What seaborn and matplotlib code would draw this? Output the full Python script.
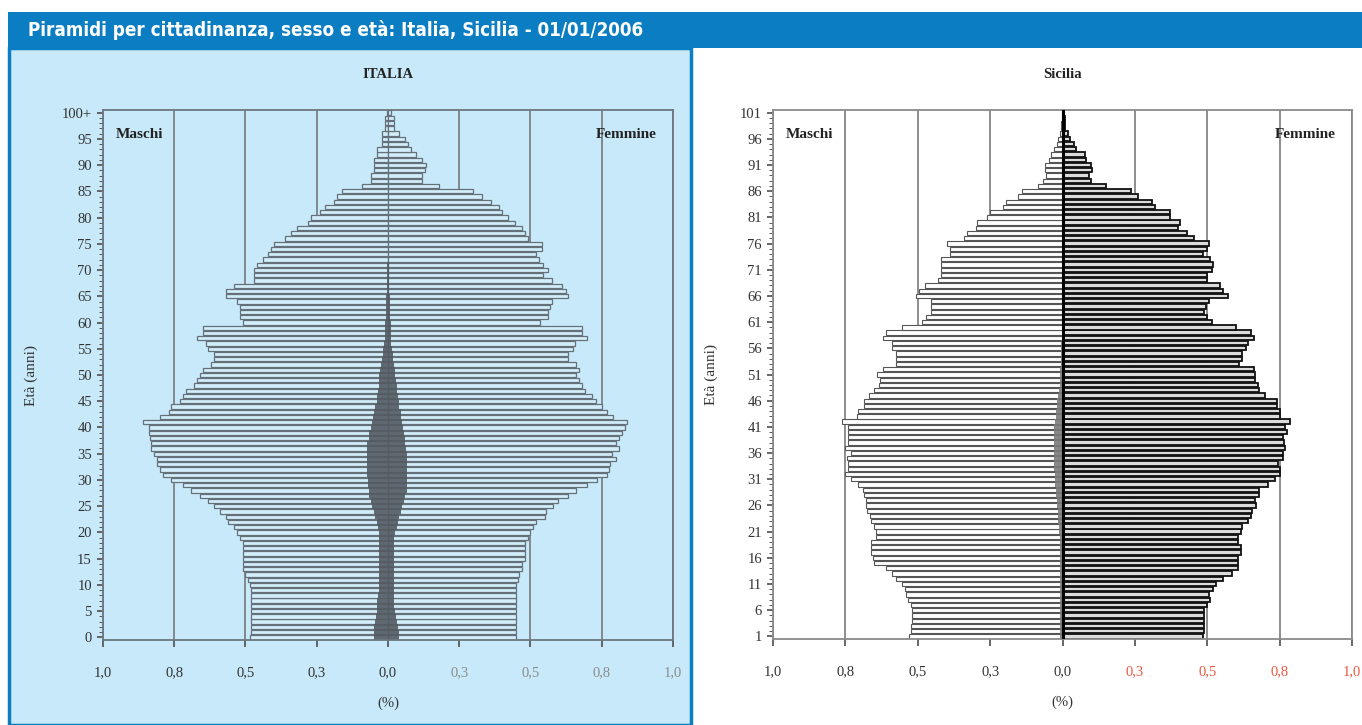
import matplotlib
matplotlib.use('Agg')
import matplotlib.pyplot as plt
from matplotlib.patches import Rectangle
import pandas as pd
import seaborn as sns

# --- dati (% sul totale della popolazione, per singolo anno di eta') ---
eta_italia = list(range(0, 101))
italia_maschi = [
    0.485, 0.48, 0.48, 0.48, 0.48, 0.48, 0.48, 0.48, 0.48, 0.48,
    0.485, 0.49, 0.50, 0.51, 0.51, 0.51, 0.51, 0.51, 0.51, 0.52,
    0.53, 0.54, 0.56, 0.57, 0.59, 0.61, 0.63, 0.66, 0.69, 0.72,
    0.76, 0.79, 0.80, 0.81, 0.81, 0.82, 0.83, 0.83, 0.835, 0.84,
    0.84, 0.86, 0.80, 0.77, 0.76, 0.73, 0.72, 0.71, 0.68, 0.67,
    0.66, 0.65, 0.62, 0.61, 0.61, 0.63, 0.64, 0.67, 0.65, 0.65,
    0.51, 0.52, 0.52, 0.52, 0.53, 0.57, 0.57, 0.54, 0.47, 0.47,
    0.47, 0.46, 0.44, 0.42, 0.41, 0.40, 0.36, 0.34, 0.32, 0.28,
    0.27, 0.24, 0.22, 0.19, 0.18, 0.16, 0.09, 0.06, 0.06, 0.05,
    0.05, 0.05, 0.04, 0.04, 0.02, 0.02, 0.02, 0.01, 0.01, 0.01,
    0.005]
italia_femmine = [
    0.45, 0.45, 0.45, 0.45, 0.45, 0.45, 0.45, 0.45, 0.45, 0.45,
    0.45, 0.455, 0.46, 0.47, 0.47, 0.48, 0.48, 0.48, 0.48, 0.49,
    0.50, 0.51, 0.52, 0.55, 0.555, 0.58, 0.595, 0.63, 0.66, 0.70,
    0.735, 0.77, 0.775, 0.78, 0.80, 0.785, 0.81, 0.80, 0.81, 0.82,
    0.83, 0.84, 0.79, 0.77, 0.75, 0.73, 0.715, 0.69, 0.68, 0.67,
    0.66, 0.67, 0.66, 0.63, 0.63, 0.65, 0.655, 0.70, 0.68, 0.68,
    0.535, 0.56, 0.56, 0.57, 0.575, 0.63, 0.625, 0.61, 0.575, 0.545,
    0.56, 0.545, 0.53, 0.52, 0.54, 0.54, 0.49, 0.48, 0.47, 0.445,
    0.42, 0.40, 0.39, 0.36, 0.33, 0.30, 0.18, 0.12, 0.12, 0.13,
    0.135, 0.12, 0.10, 0.08, 0.07, 0.06, 0.04, 0.02, 0.02, 0.02,
    0.01]
italia_stranieri_m = [
    0.05, 0.05, 0.048, 0.045, 0.043, 0.04, 0.04, 0.037, 0.035, 0.033,
    0.032, 0.03, 0.03, 0.03, 0.03, 0.03, 0.03, 0.03, 0.03, 0.03,
    0.032, 0.035, 0.04, 0.045, 0.05, 0.055, 0.06, 0.065, 0.068, 0.07,
    0.07, 0.072, 0.072, 0.072, 0.072, 0.072, 0.072, 0.072, 0.068, 0.065,
    0.06, 0.057, 0.052, 0.048, 0.045, 0.04, 0.037, 0.035, 0.032, 0.03,
    0.03, 0.028, 0.025, 0.02, 0.018, 0.016, 0.014, 0.012, 0.011, 0.01,
    0.009, 0.008, 0.008, 0.008, 0.008, 0.008, 0.005, 0.005, 0.005, 0.005,
    0.005, 0.005, 0, 0, 0, 0, 0, 0, 0, 0,
    0, 0, 0, 0, 0, 0, 0, 0, 0, 0,
    0, 0, 0, 0, 0, 0, 0, 0, 0, 0,
    0]
italia_stranieri_f = [
    0.04, 0.038, 0.035, 0.03, 0.027, 0.025, 0.02, 0.02, 0.02, 0.02,
    0.02, 0.02, 0.02, 0.02, 0.02, 0.02, 0.02, 0.02, 0.02, 0.022,
    0.025, 0.03, 0.035, 0.04, 0.045, 0.05, 0.055, 0.06, 0.065, 0.065,
    0.065, 0.065, 0.065, 0.065, 0.065, 0.065, 0.063, 0.06, 0.058, 0.055,
    0.052, 0.05, 0.047, 0.044, 0.04, 0.037, 0.035, 0.033, 0.03, 0.028,
    0.026, 0.025, 0.022, 0.018, 0.016, 0.015, 0.012, 0.012, 0.012, 0.012,
    0.012, 0.008, 0.008, 0.008, 0.008, 0.008, 0.005, 0.005, 0.005, 0.005,
    0.005, 0.005, 0, 0, 0, 0, 0, 0, 0, 0,
    0, 0, 0, 0, 0, 0, 0, 0, 0, 0,
    0, 0, 0, 0, 0, 0, 0, 0, 0, 0,
    0]

eta_sicilia = list(range(1, 102))
sicilia_maschi = [
    0.53, 0.525, 0.525, 0.52, 0.52, 0.52, 0.525, 0.535, 0.54, 0.545,
    0.555, 0.575, 0.59, 0.61, 0.65, 0.655, 0.66, 0.66, 0.66, 0.645,
    0.645, 0.65, 0.66, 0.665, 0.675, 0.68, 0.68, 0.685, 0.69, 0.705,
    0.73, 0.75, 0.74, 0.74, 0.745, 0.73, 0.75, 0.74, 0.74, 0.74,
    0.74, 0.76, 0.71, 0.705, 0.685, 0.685, 0.67, 0.65, 0.635, 0.63,
    0.64, 0.62, 0.575, 0.575, 0.575, 0.59, 0.59, 0.62, 0.61, 0.555,
    0.485, 0.47, 0.455, 0.455, 0.455, 0.505, 0.495, 0.475, 0.43, 0.42,
    0.42, 0.42, 0.42, 0.39, 0.39, 0.40, 0.34, 0.33, 0.30, 0.295,
    0.26, 0.25, 0.205, 0.195, 0.155, 0.14, 0.085, 0.068, 0.057, 0.062,
    0.062, 0.047, 0.038, 0.028, 0.02, 0.015, 0.01, 0.005, 0.004, 0.003,
    0.002]
sicilia_femmine = [
    0.485, 0.49, 0.49, 0.49, 0.49, 0.49, 0.50, 0.51, 0.505, 0.52,
    0.53, 0.555, 0.585, 0.605, 0.605, 0.605, 0.615, 0.615, 0.605, 0.605,
    0.615, 0.62, 0.64, 0.65, 0.655, 0.67, 0.665, 0.68, 0.68, 0.71,
    0.735, 0.75, 0.75, 0.745, 0.76, 0.76, 0.77, 0.765, 0.76, 0.775,
    0.77, 0.785, 0.75, 0.75, 0.74, 0.74, 0.70, 0.68, 0.675, 0.665,
    0.665, 0.66, 0.61, 0.62, 0.62, 0.635, 0.64, 0.66, 0.65, 0.60,
    0.515, 0.50, 0.49, 0.495, 0.505, 0.57, 0.555, 0.545, 0.50, 0.50,
    0.515, 0.52, 0.51, 0.485, 0.50, 0.505, 0.455, 0.43, 0.40, 0.405,
    0.37, 0.37, 0.32, 0.31, 0.26, 0.235, 0.15, 0.10, 0.093, 0.103,
    0.10, 0.082, 0.076, 0.048, 0.038, 0.026, 0.019, 0.01, 0.008, 0.007,
    0.005]
sicilia_stranieri_m = [
    0.01, 0.01, 0.01, 0.01, 0.01, 0.01, 0.01, 0.01, 0.01, 0.01,
    0.01, 0.01, 0.01, 0.01, 0.01, 0.01, 0.01, 0.01, 0.01, 0.01,
    0.012, 0.012, 0.014, 0.015, 0.017, 0.018, 0.02, 0.022, 0.024, 0.025,
    0.026, 0.027, 0.028, 0.028, 0.03, 0.03, 0.03, 0.03, 0.03, 0.03,
    0.028, 0.026, 0.024, 0.022, 0.02, 0.018, 0.015, 0.012, 0.01, 0.008,
    0.008, 0.007, 0.006, 0.005, 0.005, 0.004, 0.004, 0.003, 0.003, 0.003,
    0.002, 0.002, 0.002, 0.002, 0.002, 0, 0, 0, 0, 0,
    0, 0, 0, 0, 0, 0, 0, 0, 0, 0,
    0, 0, 0, 0, 0, 0, 0, 0, 0, 0,
    0, 0, 0, 0, 0, 0, 0, 0, 0, 0,
    0]

x_ticks = [-1.0, -0.75, -0.5, -0.25, 0.0, 0.25, 0.5, 0.75, 1.0]
x_labels = ['1,0', '0,8', '0,5', '0,3', '0,0', '0,3', '0,5', '0,8', '1,0']
y_ticks_italia = list(range(0, 101, 5))
y_labels_italia = [str(a) for a in range(0, 100, 5)] + ['100+']
y_ticks_sicilia = list(range(1, 102, 5))

BLU = '#0b7dc2'
AZZURRO = '#c7e9f9'
SERIF = ['Liberation Serif', 'DejaVu Serif']


def bars(ax, eta, valori, segno, **kw):
    df = pd.DataFrame({'eta': eta, 'valore': [segno * v for v in valori]})
    sns.barplot(data=df, x='valore', y='eta', orient='y', native_scale=True,
                saturation=1, errorbar=None, ax=ax, **kw)


def setup_axis(ax, ylim, yticks, ylabels, lato_dx_colore, spine_col, ylab_x):
    ax.set_xlim(-1.0, 1.0)
    ax.set_ylim(*ylim)
    ax.set_xticks(x_ticks)
    ax.set_xticklabels(x_labels, family=SERIF, fontsize=10.5)
    for lab in ax.get_xticklabels()[5:]:
        lab.set_color(lato_dx_colore)
    for lab in ax.get_xticklabels()[:5]:
        lab.set_color('#333333')
    ax.set_yticks(yticks)
    ax.set_yticklabels(ylabels, family=SERIF, fontsize=10.5, color='#333333')
    ax.set_yticks([y for y in range(int(ylim[0] + 0.5), int(ylim[1] + 0.5))], minor=True)
    ax.tick_params(axis='x', bottom=True, direction='out', length=5, pad=14, color='#555555')
    ax.tick_params(axis='y', which='major', left=True, direction='out', length=4, pad=4, color='#555555')
    ax.tick_params(axis='y', which='minor', left=True, direction='out', length=3, color='#555555', width=0.7)
    ax.grid(axis='x', color='#6f6f6f', linewidth=1.1, zorder=0)
    ax.grid(axis='y', visible=False)
    ax.set_axisbelow(True)
    for s in ax.spines.values():
        s.set_visible(True)
        s.set_color(spine_col)
        s.set_linewidth(1.3)
    ax.set_xlabel('(%)', family=SERIF, fontsize=10.5, color='#333333', labelpad=12)
    ax.set_ylabel('Età (anni)', family=SERIF, fontsize=11, color='#333333')
    ax.yaxis.set_label_coords(ylab_x, 0.5)
    ax.text(0.022, 0.953, 'Maschi', transform=ax.transAxes, family=SERIF,
            fontsize=11, fontweight='bold', color='#222222', va='center', ha='left')
    ax.text(0.972, 0.953, 'Femmine', transform=ax.transAxes, family=SERIF,
            fontsize=11, fontweight='bold', color='#222222', va='center', ha='right')


sns.set_theme(style='white')
W, H = 1362, 725
fig = plt.figure(figsize=(W / 100, H / 100), dpi=100)
fig.patch.set_facecolor('white')

# sfondi e intestazione
fig.patches.append(Rectangle((9 / W, 0), (691 - 9) / W, (725 - 48) / H, transform=fig.transFigure,
                             facecolor=AZZURRO, edgecolor=BLU, linewidth=2.5, zorder=-5))
fig.patches.append(Rectangle((8 / W, (725 - 48) / H), (W - 8) / W, 36 / H, transform=fig.transFigure,
                             facecolor=BLU, edgecolor='none', zorder=1))
fig.text(28 / W, 1 - 30 / H, 'Piramidi per cittadinanza, sesso e età: Italia, Sicilia - 01/01/2006',
         color='white', fontsize=13.5, fontweight='bold', fontstretch='condensed',
         family='DejaVu Sans', va='center', ha='left')

# --- ITALIA ---
ax1 = fig.add_axes([103 / W, (725 - 640) / H, 570 / W, 530 / H])
ax1.set_facecolor(AZZURRO)
bars(ax1, eta_italia, italia_maschi, -1, width=0.82, color='#d2eefb', edgecolor='#65707a', linewidth=0.9)
bars(ax1, eta_italia, italia_femmine, 1, width=0.82, color='#d2eefb', edgecolor='#65707a', linewidth=0.9)
bars(ax1, eta_italia, italia_stranieri_m, -1, width=1.0, color='#545b62', edgecolor='none', linewidth=0, alpha=0.9)
bars(ax1, eta_italia, italia_stranieri_f, 1, width=1.0, color='#545b62', edgecolor='none', linewidth=0, alpha=0.9)
setup_axis(ax1, (-0.5, 100.5), y_ticks_italia, y_labels_italia, '#8c8c8c', '#6c7880', -0.114)
fig.text(388 / W, 1 - 75 / H, 'ITALIA', family=SERIF, fontsize=10.5, fontweight='bold',
         color='#222222', ha='center', va='center')

# --- SICILIA ---
ax2 = fig.add_axes([773 / W, (725 - 639) / H, 579 / W, 529 / H])
ax2.set_facecolor('white')
bars(ax2, eta_sicilia, sicilia_maschi, -1, width=0.82, color='white', edgecolor='#555555', linewidth=0.8)
bars(ax2, eta_sicilia, sicilia_femmine, 1, width=0.82, color='#dcdcdc', edgecolor='#111111', linewidth=1.3)
bars(ax2, eta_sicilia, sicilia_stranieri_m, -1, width=1.0, color='#7a7a7a', edgecolor='none', linewidth=0, alpha=0.9)
setup_axis(ax2, (0.5, 101.5), y_ticks_sicilia, [str(a) for a in y_ticks_sicilia], '#f0553f', '#8a8a8a', -0.095)
ax2.axvline(0, color='black', linewidth=2.2, zorder=5)
fig.text(1063 / W, 1 - 75 / H, 'Sicilia', family=SERIF, fontsize=10.5, fontweight='bold',
         color='#222222', ha='center', va='center')

fig.savefig('out.png', dpi=100, facecolor=fig.get_facecolor())
